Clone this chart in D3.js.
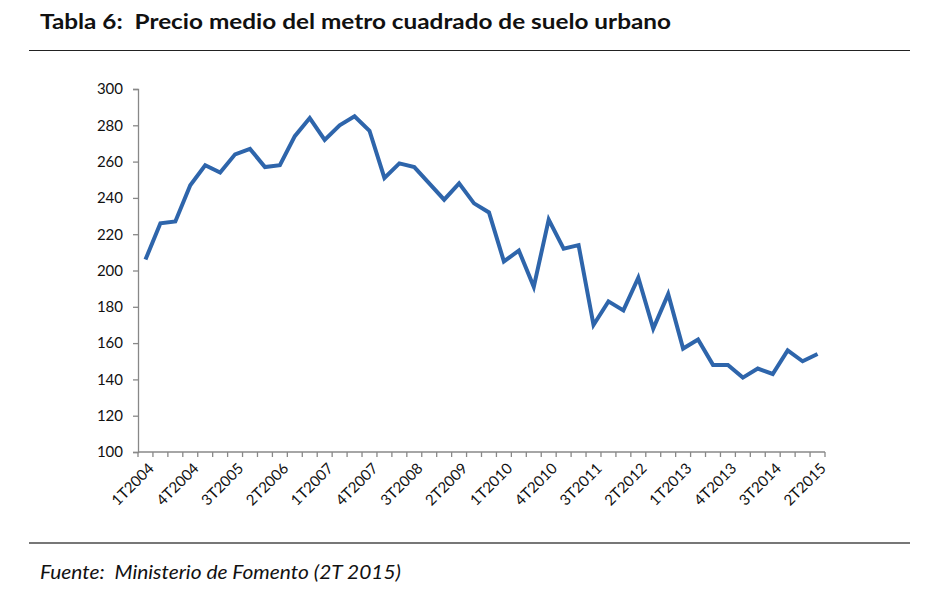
<!DOCTYPE html>
<html><head><meta charset="utf-8">
<script src="https://cdn.jsdelivr.net/npm/d3@7"></script>
<style>body{margin:0;background:#fff}svg{display:block}text{white-space:pre}</style>
</head><body>
<svg id="c" width="932" height="604"></svg>
<script>
const quarters = ["1T2004","2T2004","3T2004","4T2004","1T2005","2T2005","3T2005","4T2005",
"1T2006","2T2006","3T2006","4T2006","1T2007","2T2007","3T2007","4T2007",
"1T2008","2T2008","3T2008","4T2008","1T2009","2T2009","3T2009","4T2009",
"1T2010","2T2010","3T2010","4T2010","1T2011","2T2011","3T2011","4T2011",
"1T2012","2T2012","3T2012","4T2012","1T2013","2T2013","3T2013","4T2013",
"1T2014","2T2014","3T2014","4T2014","1T2015","2T2015"];
const prices = [206,226,227,247,258,254,264,267,257,258,274,284,272,280,285,277,
251,259,257,248,239,248,237,232,205,211,191,228,212,214,170,183,
178,196,168,187,157,162,148,148,141,146,143,156,150,154];
const yTicks = [100,120,140,160,180,200,220,240,260,280,300];
const labelEvery = 3;
const title = "Tabla 6:  Precio medio del metro cuadrado de suelo urbano";
const source = "Fuente:  Ministerio de Fomento (2T 2015)";

(function(){
const svg = d3.select("#c");
const font = "'Lato','Open Sans',sans-serif";
const L = 138, R = 825, T = 89, B = 452;

svg.append("text").attr("x",40).attr("y",29).attr("font-family",font)
  .attr("font-weight","bold").attr("font-size",21).attr("fill","#111")
  .attr("textLength",631).attr("lengthAdjust","spacingAndGlyphs").text(title);
svg.append("line").attr("x1",29).attr("x2",910).attr("y1",50.5).attr("y2",50.5)
  .attr("stroke","#222").attr("stroke-width",1);
svg.append("line").attr("x1",29).attr("x2",910).attr("y1",543).attr("y2",543)
  .attr("stroke","#777").attr("stroke-width",2);
svg.append("text").attr("x",40).attr("y",579).attr("font-family",font)
  .attr("font-style","italic").attr("font-size",20).attr("fill","#111")
  .attr("textLength",361).attr("lengthAdjust","spacingAndGlyphs").text(source);

const x = d3.scaleBand().domain(quarters).range([L,R]);
const y = d3.scaleLinear().domain([100,300]).range([B,T]);

const ya = svg.append("g").attr("transform",`translate(${L},0)`)
  .call(d3.axisLeft(y).tickValues(yTicks).tickSize(5).tickPadding(10));
ya.selectAll("path,line").attr("stroke","#888").attr("stroke-width",1.3);
ya.selectAll("text").attr("font-family",font).attr("font-size",15).attr("fill","#111");

const xa = svg.append("g").attr("transform",`translate(0,${B})`);
xa.append("line").attr("x1",L).attr("x2",R).attr("y1",0).attr("y2",0)
  .attr("stroke","#888").attr("stroke-width",1.3);
const bounds = quarters.map(q=>x(q)).concat([R]);
xa.selectAll("line.t").data(bounds).join("line").attr("class","t")
  .attr("x1",d=>d).attr("x2",d=>d).attr("y1",0).attr("y2",5)
  .attr("stroke","#888").attr("stroke-width",1.3);
xa.selectAll("text.l").data(quarters.filter((q,i)=>i%labelEvery===0)).join("text").attr("class","l")
  .attr("transform",d=>`translate(${x(d)+x.bandwidth()/2+2},${10}) rotate(-45)`)
  .attr("text-anchor","end").attr("dy","0.7em")
  .attr("font-family",font).attr("font-size",15).attr("fill","#111").text(d=>d);

const line = d3.line().x((d,i)=>x(quarters[i])+x.bandwidth()/2).y(d=>y(d));
svg.append("path").datum(prices).attr("d",line).attr("fill","none")
  .attr("stroke","#2E65AB").attr("stroke-width",4).attr("stroke-linejoin","miter");
})();
</script>
</body></html>
